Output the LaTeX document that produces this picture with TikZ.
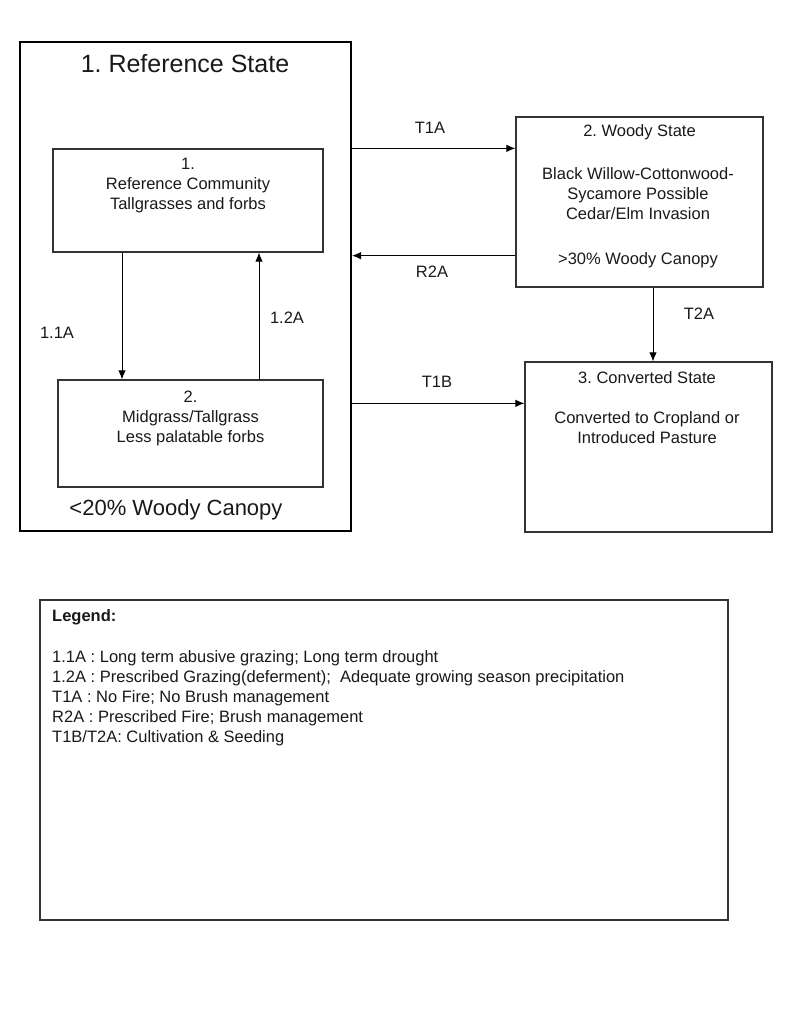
\documentclass[tikz,border=0pt]{standalone}
\usepackage{fontspec}
\setmainfont{Liberation Sans}
\usetikzlibrary{arrows.meta}
\frenchspacing

\tikzset{
    statebox/.style={draw=black!80, line width=1.3pt, inner sep=0pt},
    arr/.style={-{Latex[length=9pt,width=7.5pt]}, line width=0.9pt},
    txt/.style={align=center, inner sep=0pt, text=black!90, font=\fontsize{16.5}{20}\selectfont}
}

\begin{document}
\begin{tikzpicture}[x=1pt, y=-1pt]
    \useasboundingbox (0,0) rectangle (800,1012);

    % Reference state with its two communities
    \node[statebox, line width=2.2pt, draw=black, minimum width=331pt, minimum height=489pt] (refstate) at (185.5,286.5) {};
    \node[txt, font=\fontsize{25}{30}\selectfont] (reftitle) at (185,64) {1. Reference State};
    \node[statebox, minimum width=270pt, minimum height=103pt] (comm1) at (188,200.5) {};
    \node[txt] (comm1txt) at (188,186) {1.\\Reference Community\\Tallgrasses and forbs};
    \node[statebox, minimum width=265pt, minimum height=107pt] (comm2) at (190.5,433.5) {};
    \node[txt] (comm2txt) at (190.5,418) {2.\\Midgrass/Tallgrass\\Less palatable forbs};
    \node[txt, font=\fontsize{22}{26}\selectfont] (refcanopy) at (176,510) {<20\% Woody Canopy};

    % Woody state
    \node[statebox, minimum width=247pt, minimum height=170pt] (woody) at (639.5,202) {};
    \node[txt] (woodytitle) at (639.5,132) {2. Woody State};
    \node[txt] (woodytxt) at (638,194) {Black Willow-Cottonwood-\\Sycamore Possible\\Cedar/Elm Invasion};
    \node[txt] (woodycanopy) at (638,260) {>30\% Woody Canopy};

    % Converted state
    \node[statebox, minimum width=247pt, minimum height=170pt] (conv) at (648.5,447) {};
    \node[txt] (convtitle) at (647,378) {3. Converted State};
    \node[txt] (convtxt) at (647,428) {Converted to Cropland or\\Introduced Pasture};

    % Pathways inside the reference state
    \draw[arr] ([xshift=-66pt]comm1.south) -- ([xshift=-66pt]comm1.south |- comm2.north);
    \draw[arr] ([xshift=71pt]comm1.south |- comm2.north) -- ([xshift=71pt]comm1.south);
    \node[txt] (p11) at (57,333) {1.1A};
    \node[txt] (p12) at (287,318) {1.2A};

    % Transitions between states
    \coordinate (t1a) at ([yshift=-32pt]woody.north west);
    \coordinate (r2a) at ([yshift=32pt]woody.south west);
    \coordinate (t1b) at ([yshift=-42pt]conv.north west);
    \draw[arr] (refstate.east |- t1a) -- (t1a);
    \draw[arr] (r2a) -- (refstate.east |- r2a);
    \draw[arr] (refstate.east |- t1b) -- (t1b);
    \draw[arr] ([xshift=13.5pt]woody.south) -- ([xshift=13.5pt]woody.south |- conv.north);
    \node[txt] (lt1a) at (430,128) {T1A};
    \node[txt] (lr2a) at (432,272) {R2A};
    \node[txt] (lt2a) at (699,314) {T2A};
    \node[txt] (lt1b) at (437,382) {T1B};

    % Legend
    \node[statebox, minimum width=688pt, minimum height=320pt] (legend) at (384,760) {};
    \node[txt, anchor=west, font=\bfseries\fontsize{16.5}{20}\selectfont] (legtitle) at (52,617) {Legend:};
    \node[txt, anchor=west, align=left] (legtxt) at (52,698) {1.1A : Long term abusive grazing; Long term drought\\
        1.2A : Prescribed Grazing(deferment);\ \ Adequate growing season precipitation\\
        T1A : No Fire; No Brush management\\
        R2A : Prescribed Fire; Brush management\\
        T1B/T2A: Cultivation \& Seeding};
\end{tikzpicture}
\end{document}
